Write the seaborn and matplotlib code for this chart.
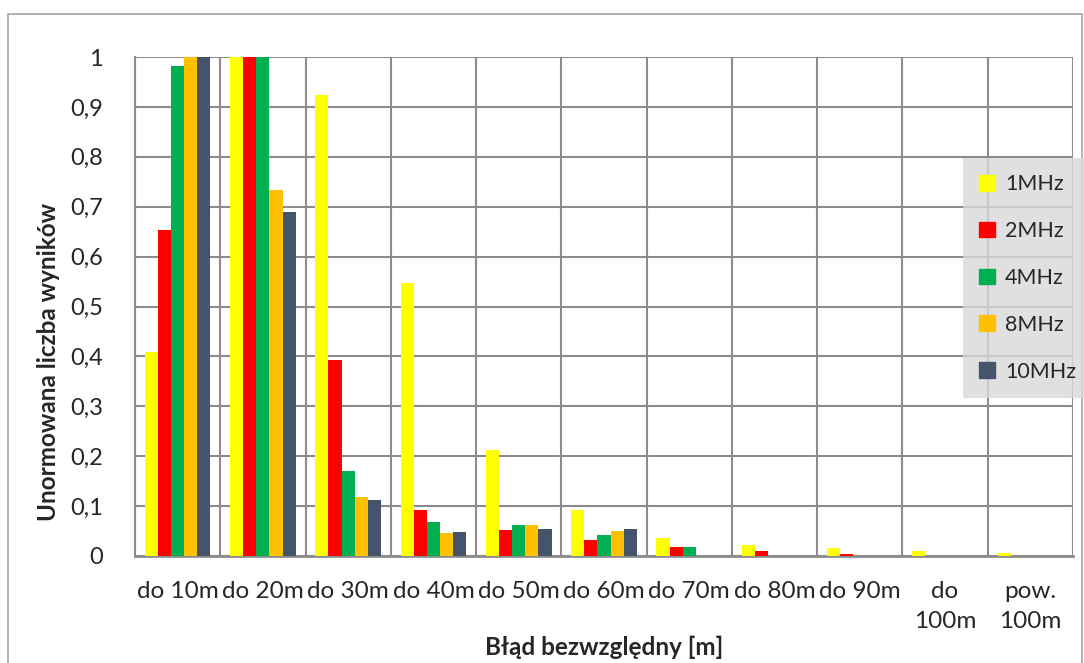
import matplotlib
matplotlib.use("Agg")
import matplotlib.pyplot as plt
import seaborn as sns
import pandas as pd
import numpy as np
from matplotlib.patches import Rectangle

categories = ["do 10m", "do 20m", "do 30m", "do 40m", "do 50m", "do 60m",
              "do 70m", "do 80m", "do 90m", "do\n100m", "pow.\n100m"]
series_names = ["1MHz", "2MHz", "4MHz", "8MHz", "10MHz"]
v_1mhz = [0.409, 1.0, 0.923, 0.547, 0.213, 0.093, 0.037, 0.023, 0.017, 0.011, 0.006]
v_2mhz = [0.653, 1.0, 0.393, 0.092, 0.052, 0.032, 0.019, 0.011, 0.005, 0.0, 0.0]
v_4mhz = [0.982, 1.0, 0.171, 0.068, 0.063, 0.043, 0.019, 0.0, 0.0, 0.0, 0.0]
v_8mhz = [1.0, 0.734, 0.118, 0.046, 0.063, 0.051, 0.0, 0.0, 0.0, 0.0, 0.0]
v_10mhz = [1.0, 0.689, 0.113, 0.049, 0.055, 0.055, 0.0, 0.0, 0.0, 0.0, 0.0]
colors = ["#FFFF00", "#FF0000", "#00B050", "#FFC000", "#44546A"]
y_ticks = [0, 0.1, 0.2, 0.3, 0.4, 0.5, 0.6, 0.7, 0.8, 0.9, 1.0]
y_tick_labels = ["0", "0,1", "0,2", "0,3", "0,4", "0,5", "0,6", "0,7", "0,8", "0,9", "1"]

rows = []
for name, vals in zip(series_names, [v_1mhz, v_2mhz, v_4mhz, v_8mhz, v_10mhz]):
    for c, v in zip(categories, vals):
        rows.append({"cat": c, "series": name, "val": v})
df = pd.DataFrame(rows)

sns.set_style("white")
plt.rcParams["font.family"] = ["Lato", "DejaVu Sans"]

fig = plt.figure(figsize=(10.84, 6.63), dpi=100)
ax = fig.add_axes([135/1084, 1-556/663, (1073-135)/1084, (556-57)/663])

grid_c = "#8C8C8C"
sns.barplot(data=df, x="cat", y="val", hue="series", order=categories,
            hue_order=series_names, palette=colors, width=0.77,
            saturation=1, ax=ax, zorder=3, edgecolor="none", linewidth=0)

ax.set_ylim(0, 1)
ax.set_xlim(-0.5, len(categories) - 0.5)
ax.set_yticks(y_ticks)
ax.set_yticklabels(y_tick_labels, fontsize=17)
ax.set_xticks(range(len(categories)))
ax.set_xticklabels(categories, fontsize=17.5, linespacing=1.55)
ax.tick_params(axis="x", which="major", length=0, pad=18)
ax.tick_params(axis="y", which="major", length=5, width=1.5, color=grid_c,
               direction="out", pad=18)
ax.set_xticks(np.arange(-0.5, len(categories), 1.0), minor=True)
ax.tick_params(axis="x", which="minor", length=6, width=1.5, color=grid_c, direction="out")
ax.grid(axis="y", which="major", color=grid_c, linewidth=1.5, zorder=0)
ax.grid(axis="x", which="minor", color=grid_c, linewidth=1.5, zorder=0)
ax.grid(axis="x", which="major", visible=False)
ax.set_axisbelow(True)
for s in ["top", "right"]:
    ax.spines[s].set_visible(False)
ax.spines["left"].set_color(grid_c)
ax.spines["left"].set_linewidth(1.5)
ax.spines["bottom"].set_color(grid_c)
ax.spines["bottom"].set_linewidth(2)

ax.set_xlabel("Błąd bezwzględny [m]", fontsize=17.5, fontweight="bold")
ax.set_ylabel("Unormowana liczba wyników", fontsize=17.5, fontweight="bold")
ax.xaxis.set_label_coords(0.5, (556 - 636) / 499)
ax.yaxis.set_label_coords((60 - 135) / 938, (556 - 362) / 499)

ax.get_legend().remove()
handles = [Rectangle((0, 0), 1, 1, color=c) for c in colors]
leg = fig.legend(handles, series_names, loc="upper left",
                 bbox_to_anchor=(963/1084, 1-158/663), fontsize=15.5,
                 frameon=True, fancybox=False, facecolor="#D9D9D9",
                 edgecolor="#D9D9D9", handlelength=0.75, handleheight=0.75,
                 labelspacing=1.25, handletextpad=0.45, borderpad=0.75,
                 borderaxespad=0)
leg.get_frame().set_linewidth(0)

fig.patches.append(Rectangle((8/1084, -0.1), (1082-8)/1084, 1.1-14/663,
                             transform=fig.transFigure, fill=False,
                             edgecolor="#A6A6A6", linewidth=1.2))

fig.savefig("out.png", dpi=100)
